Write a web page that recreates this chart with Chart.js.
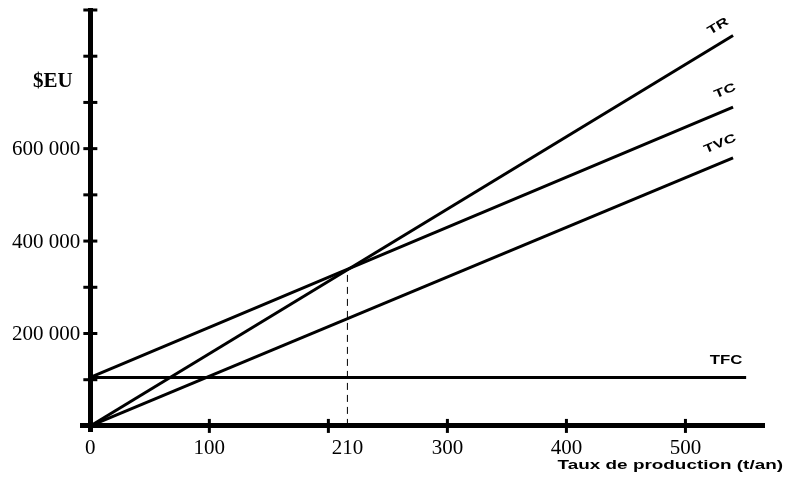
<!DOCTYPE html>
<html>
<head>
<meta charset="utf-8">
<script src="https://cdn.jsdelivr.net/npm/chart.js@4.4.1/dist/chart.umd.min.js"></script>
<style>
html,body{margin:0;padding:0;background:#fff;}
canvas{display:block;}
</style>
</head>
<body>
<canvas id="c" width="785" height="482"></canvas>
<script>
// ---- data ----
const seriesNames = ['TR', 'TC', 'TVC', 'TFC'];
const qStart = [0, 0, 0, 0];
const qEnd = [540, 540, 540, 551];
const valStart = [0, 105000, 0, 105000];
const valEnd = [845000, 690000, 580000, 105000];
const breakEvenQ = 216;
const breakEvenValue = 338000;
const breakEvenLabel = '210';
const xTickMarks = [100, 200, 300, 400, 500];
const xLabelValues = [0, 100, breakEvenQ, 300, 400, 500];
const xLabelTexts = ['0', '100', breakEvenLabel, '300', '400', '500'];
const yTickMarks = [100000, 200000, 300000, 400000, 500000, 600000, 700000, 800000, 900000];
const yLabelValues = [200000, 400000, 600000];
const yLabelTexts = ['200 000', '400 000', '600 000'];
const yTitle = '$EU';
const xTitle = 'Taux de production (t/an)';

// ---- datasets built from arrays ----
const datasets = seriesNames.map((n, i) => ({
  label: n,
  data: [{x: qStart[i], y: valStart[i]}, {x: qEnd[i], y: valEnd[i]}],
  borderColor: '#000', borderWidth: 3, pointRadius: 0, tension: 0, fill: false
}));
datasets.push({
  label: 'breakeven',
  data: [{x: breakEvenQ, y: 0}, {x: breakEvenQ, y: breakEvenValue}],
  borderColor: '#000', borderWidth: 1, borderDash: [7, 5], pointRadius: 0, fill: false
});

// label offsets (px) relative to line ends
const labelOffsets = [[-15, -9], [-8, -16], [-13, -14], [-20, -17]];
const serifFont = '"Liberation Serif", "Times New Roman", serif';

const decoPlugin = {
  id: 'deco',
  afterDraw(chart) {
    const ctx = chart.ctx, xs = chart.scales.x, ys = chart.scales.y;
    const x0 = xs.getPixelForValue(0), y0 = ys.getPixelForValue(0);
    ctx.save();
    ctx.strokeStyle = '#000';
    ctx.fillStyle = '#000';
    ctx.lineWidth = 3;
    // y tick marks (both sides)
    yTickMarks.forEach(v => {
      const py = ys.getPixelForValue(v);
      ctx.beginPath(); ctx.moveTo(x0 - 7, py); ctx.lineTo(x0 + 7, py); ctx.stroke();
    });
    // x tick marks
    xTickMarks.forEach(v => {
      const px = xs.getPixelForValue(v);
      ctx.beginPath(); ctx.moveTo(px, y0 - 7); ctx.lineTo(px, y0 + 7); ctx.stroke();
    });
    // y tick labels
    ctx.font = '21px ' + serifFont;
    ctx.textAlign = 'right'; ctx.textBaseline = 'middle';
    yLabelValues.forEach((v, k) => {
      ctx.fillText(yLabelTexts[k], x0 - 10, ys.getPixelForValue(v) + 1);
    });
    // series labels
    seriesNames.forEach((n, i) => {
      const ex = xs.getPixelForValue(qEnd[i]), ey = ys.getPixelForValue(valEnd[i]);
      const sx = xs.getPixelForValue(qStart[i]), sy = ys.getPixelForValue(valStart[i]);
      const ang = Math.atan2(ey - sy, ex - sx);
      ctx.save();
      ctx.translate(ex + labelOffsets[i][0], ey + labelOffsets[i][1]);
      ctx.rotate(ang);
      ctx.scale(1.4, 1);
      ctx.font = 'bold 12px "Liberation Sans", Arial, sans-serif';
      ctx.textAlign = 'center'; ctx.textBaseline = 'middle';
      ctx.fillText(n, 0, 0);
      ctx.restore();
    });
    // y title
    ctx.font = 'bold 21px ' + serifFont;
    ctx.textAlign = 'left'; ctx.textBaseline = 'alphabetic';
    ctx.fillText(yTitle, 33, 87);
    // x title
    ctx.save();
    ctx.translate(783, 469);
    ctx.scale(1.4, 1);
    ctx.font = 'bold 13.5px "Liberation Sans", Arial, sans-serif';
    ctx.textAlign = 'right'; ctx.textBaseline = 'alphabetic';
    ctx.fillText(xTitle, 0, 0);
    ctx.restore();
    ctx.restore();
  }
};

new Chart(document.getElementById('c'), {
  type: 'line',
  data: {datasets},
  options: {
    responsive: false,
    animation: false,
    layout: {padding: {left: 82, right: 21, top: 10, bottom: 51}},
    plugins: {legend: {display: false}, tooltip: {enabled: false}},
    scales: {
      x: {
        type: 'linear', min: -7, max: 566, position: {y: 0},
        grid: {display: false, drawTicks: false},
        border: {display: true, width: 5, color: '#000'},
        afterBuildTicks: s => { s.ticks = xLabelValues.map(v => ({value: v})); },
        ticks: {
          autoSkip: false, maxRotation: 0, color: '#000', padding: 10,
          font: {family: serifFont, size: 21},
          callback: (v) => { const k = xLabelValues.indexOf(v); return k >= 0 ? xLabelTexts[k] : ''; }
        }
      },
      y: {
        type: 'linear', min: -11000, max: 900000, position: {x: 0},
        grid: {display: false, drawTicks: false},
        border: {display: true, width: 5, color: '#000'},
        ticks: {display: false}
      }
    }
  },
  plugins: [decoPlugin]
});
</script>
</body>
</html>
